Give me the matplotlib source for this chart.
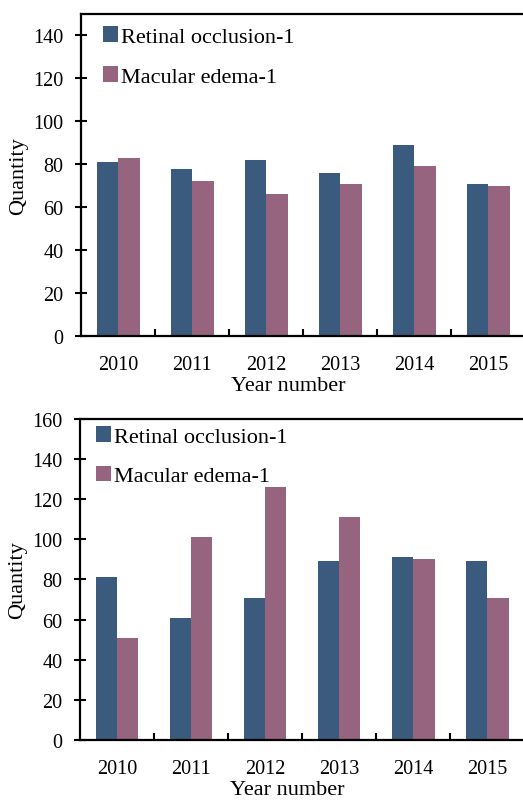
import numpy as np
import matplotlib
matplotlib.use('Agg')
import matplotlib.pyplot as plt

years = ['2010', '2011', '2012', '2013', '2014', '2015']
series_names = ['Retinal occlusion-1', 'Macular edema-1']

# top panel
retinal_top = [81, 78, 82, 76, 89, 71]
macular_top = [83, 72, 66, 71, 79, 70]

# bottom panel
retinal_bot = [81, 61, 71, 89, 91, 89]
macular_bot = [51, 101, 126, 111, 90, 71]

blue = '#3a5b7d'
mauve = '#97647f'

plt.rcParams['font.family'] = ['Liberation Serif', 'DejaVu Serif']


def draw_panel(ax, retinal, macular, ymax, yticks, leg_anchor):
    x = np.arange(len(years))
    w = 0.29
    ax.bar(x - w / 2, retinal, width=w, color=blue, label=series_names[0])
    ax.bar(x + w / 2, macular, width=w, color=mauve, label=series_names[1])

    ax.set_xlim(-0.5, len(years) - 0.5)
    ax.set_ylim(0, ymax)
    ax.set_yticks(yticks)
    ax.set_xticks(x)
    ax.set_xticklabels(years)
    ax.set_xticks(np.arange(0.5, len(years) - 1, 1.0), minor=True)

    ax.tick_params(axis='x', which='major', length=0, pad=14, labelsize=14.5)
    ax.tick_params(axis='x', which='minor', direction='in', length=5, width=1.5)
    ax.tick_params(axis='y', direction='inout', length=9, width=1.5, labelsize=14.5, pad=8)

    for s in ax.spines.values():
        s.set_linewidth(1.6)
    # the right border sits just past the image edge in the original
    ax.spines['right'].set_visible(False)

    ax.set_ylabel('Quantity', fontsize=16, labelpad=4)
    ax.set_xlabel('Year number', fontsize=16, labelpad=4)
    ax.xaxis.set_label_coords(0.467, -0.125)

    ax.legend(loc='upper left', bbox_to_anchor=leg_anchor, frameon=False,
              fontsize=16, handlelength=0.68, handleheight=0.72,
              handletextpad=0.12, labelspacing=0.85, borderpad=0, borderaxespad=0)


fig = plt.figure(figsize=(5.23, 8.03), dpi=100)
ax1 = fig.add_axes([0.155, 0.5803, 0.849, 0.401])
ax2 = fig.add_axes([0.153, 0.0772, 0.849, 0.3998])

draw_panel(ax1, retinal_top, macular_top, 150, range(0, 141, 20), (0.05, 0.962))
draw_panel(ax2, retinal_bot, macular_bot, 160, range(0, 161, 20), (0.036, 0.978))

fig.savefig('out.png', dpi=100)
